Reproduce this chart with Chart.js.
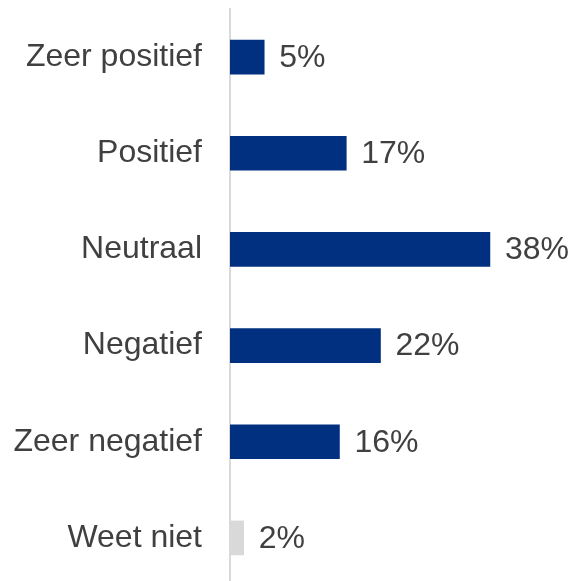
<!DOCTYPE html>
<html lang="nl">
<head>
<meta charset="UTF-8">
<script src="https://cdn.jsdelivr.net/npm/chart.js"></script>
<title>Houding</title>
<style>
  html, body { margin: 0; padding: 0; background: #fff; overflow: hidden; }
  .wrap { width: 577px; height: 587px; position: relative; }
</style>
</head>
<body>
<div class="wrap"><canvas id="chart"></canvas></div>
<script>
// data
const categories = ['Zeer positief', 'Positief', 'Neutraal', 'Negatief', 'Zeer negatief', 'Weet niet'];
const values = [5, 17, 38, 22, 16, 2];
const barColors = ['#00307f', '#00307f', '#00307f', '#00307f', '#00307f', '#d9d9d9'];

const textColor = '#404040';
const fontFamily = '"Liberation Sans", Arial, sans-serif';

// percentages next to the bars
const valueLabels = {
    id: 'valueLabels',
    afterDatasetsDraw(chart) {
        const ctx = chart.ctx;
        const meta = chart.getDatasetMeta(0);
        ctx.save();
        ctx.font = '32px ' + fontFamily;
        ctx.fillStyle = textColor;
        ctx.textAlign = 'left';
        ctx.textBaseline = 'middle';
        meta.data.forEach((bar, i) => {
            ctx.fillText(values[i] + '%', bar.x + 15, bar.y + 1);
        });
        ctx.restore();
    }
};

new Chart(document.getElementById('chart'), {
    type: 'bar',
    data: {
        labels: categories,
        datasets: [{
            data: values,
            backgroundColor: barColors,
            barThickness: 34
        }]
    },
    options: {
        indexAxis: 'y',
        responsive: true,
        maintainAspectRatio: false,
        animation: false,
        layout: { padding: { top: 9, bottom: 1, left: 0, right: 5 } },
        plugins: {
            legend: { display: false },
            tooltip: { enabled: false }
        },
        scales: {
            x: {
                display: false,
                min: 0,
                max: 50
            },
            y: {
                // fixed axis width, and no extra vertical room for the labels
                afterFit(scale) {
                    scale.width = 230;
                    scale.paddingTop = 0;
                    scale.paddingBottom = 0;
                },
                grid: { display: false, drawTicks: false },
                border: { display: true, color: '#d9d9d9', width: 2 },
                ticks: {
                    padding: 28,
                    color: textColor,
                    font: { size: 32, family: fontFamily }
                }
            }
        }
    },
    plugins: [valueLabels]
});
</script>
</body>
</html>
